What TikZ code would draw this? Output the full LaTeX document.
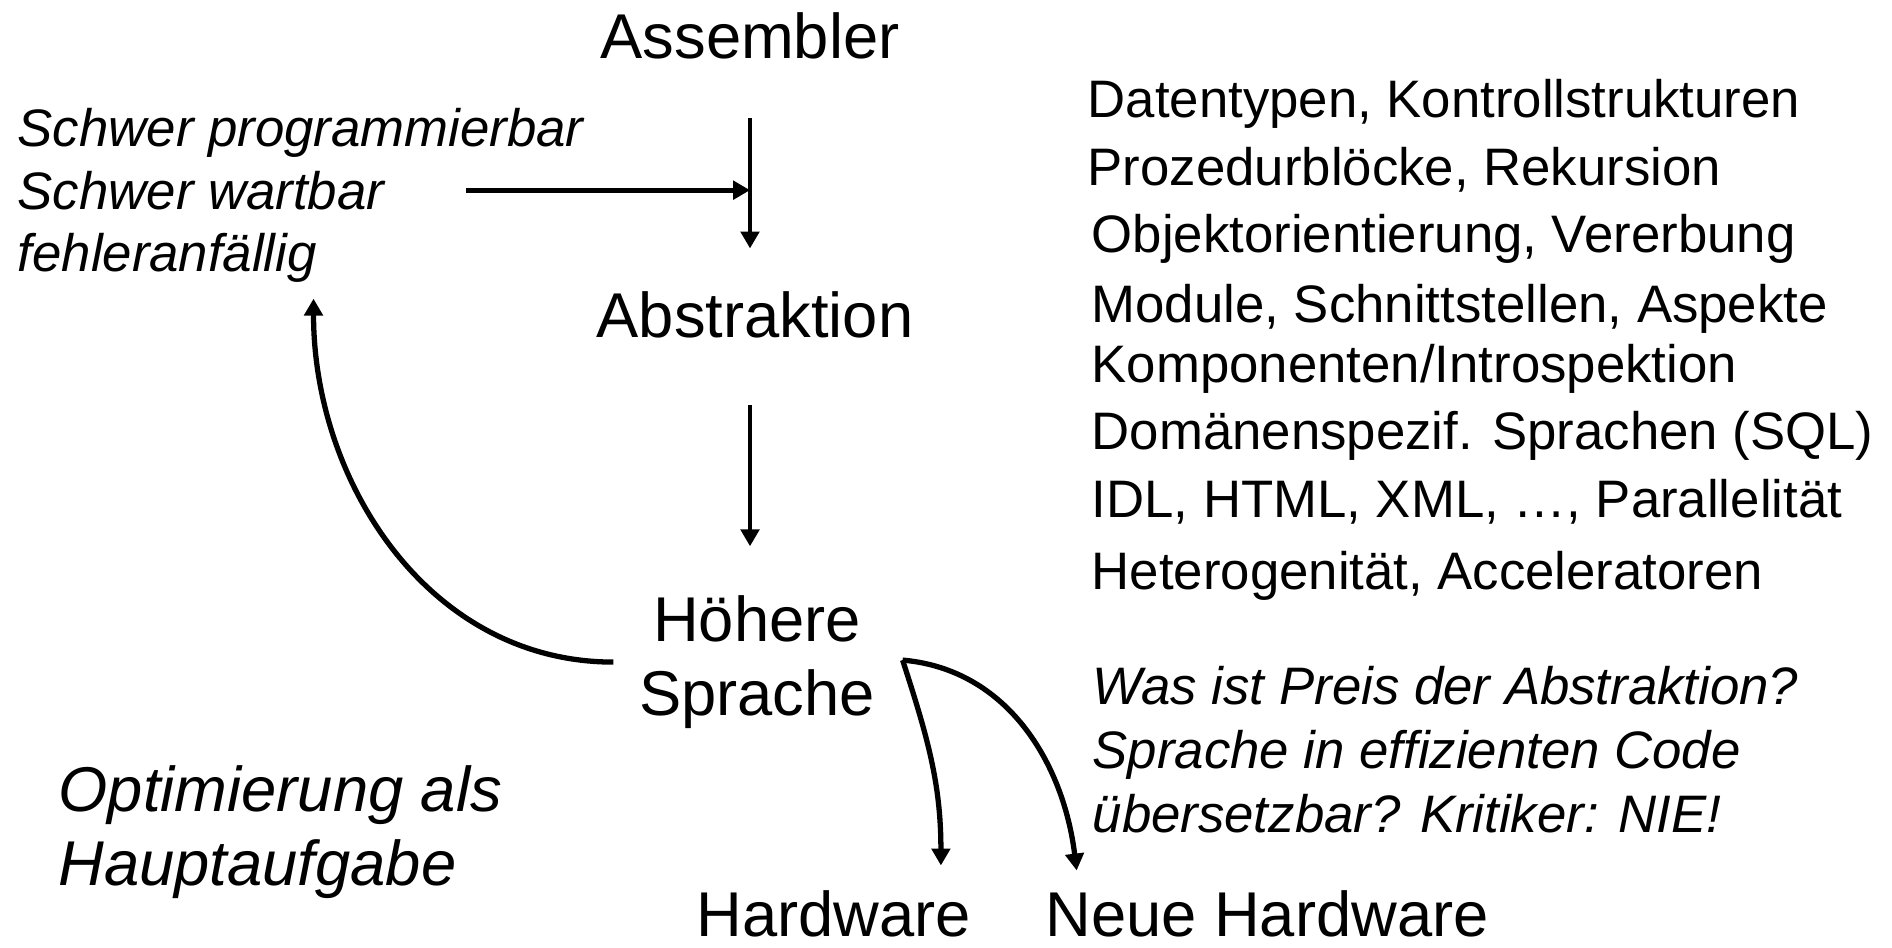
\documentclass[tikz,border=0pt]{standalone}
\usepackage{fontspec}
\setmainfont{Liberation Sans}
\usetikzlibrary{arrows.meta,calc}

\tikzset{
  gross/.style={font=\fontsize{18}{20.8}\selectfont, inner sep=0pt},
  grosskursiv/.style={font=\fontsize{18}{20.8}\selectfont\itshape, inner sep=0pt},
  klein/.style={font=\fontsize{15}{18.1}\selectfont, inner sep=0pt},
  kursiv/.style={font=\fontsize{15}{18.1}\selectfont\itshape, inner sep=0pt},
  pfeil/.style={->, line width=1.4pt},
  bogen/.style={->, line width=1.5pt},
}

\begin{document}
\begin{tikzpicture}[x=0.01cm, y=-0.01cm, >={Triangle[length=4.8pt,width=5.2pt]}]
  \useasboundingbox (0,0) rectangle (1892,947);

  % Hauptkette (Mitte)
  \node[gross, anchor=base] (asm) at (750,58) {Assembler};
  \node[gross, anchor=base] (abs) at (755,337) {Abstraktion};
  \node[gross, anchor=base, align=center] (hs) at (757,715) {Höhere\\Sprache};
  \node[gross, anchor=base] (hw) at (834,936) {Hardware};
  \node[gross, anchor=base] (nhw) at (1267,936) {Neue Hardware};

  % Probleme (links oben)
  \node[kursiv, anchor=base west] (p1) at (17,146) {Schwer programmierbar};
  \node[kursiv, anchor=base west] (p2) at (17,209) {Schwer wartbar};
  \node[kursiv, anchor=base west] (p3) at (17,271) {fehleranfällig};

  % Optimierung (links unten)
  \node[grosskursiv, anchor=base west, align=left] (opt) at (58,885) {Optimierung als\\Hauptaufgabe};

  % Sprachkonzepte (rechts)
  \node[klein, anchor=base west] (k1) at (1087,117) {Datentypen, Kontrollstrukturen};
  \node[klein, anchor=base west] (k2) at (1087,185) {Prozedurblöcke, Rekursion};
  \node[klein, anchor=base west] (k3) at (1091,252) {Objektorientierung, Vererbung};
  \node[klein, anchor=base west] (k4) at (1091,322) {Module, Schnittstellen, Aspekte};
  \node[klein, anchor=base west] (k5) at (1091,382) {Komponenten/Introspektion};
  \node[klein, anchor=base west] (k6) at (1091,449) {Domänenspezif. Sprachen (SQL)};
  \node[klein, anchor=base west] (k7) at (1091,517) {IDL, HTML, XML, …, Parallelität};
  \node[klein, anchor=base west] (k8) at (1091,589) {Heterogenität, Acceleratoren};

  % Frage (rechts unten)
  \node[kursiv, anchor=base west, align=left] (frage) at (1092,832)
    {Was ist Preis der Abstraktion?\\Sprache in effizienten Code\\übersetzbar? Kritiker: NIE!};

  % Gerade Pfeile
  \draw[pfeil, shorten <=0.59cm, shorten >=0.42cm] (asm.south) -- (asm.south |- abs.north);
  \draw[pfeil, shorten <=0.67cm, shorten >=0.49cm] (asm.south |- abs.south) -- (asm.south |- hs.north);
  \draw[pfeil, shorten <=0.81cm] (p2.east) -- (p2.east -| asm.south);

  % Boegen
  \draw[bogen] ($(hs.west)+(-25,0)$) to[out=180,in=-90] ($(p3.south east)+(-4,16)$);
  \draw[bogen] ($(hs.east)+(27,-2)$) to[out=-72,in=90] ($(hw.north east)+(-31,-24)$);
  \draw[bogen] ($(hs.east)+(27,-2)$) to[out=-5,in=97] ($(nhw.north west)+(32,-19)$);
\end{tikzpicture}
\end{document}
